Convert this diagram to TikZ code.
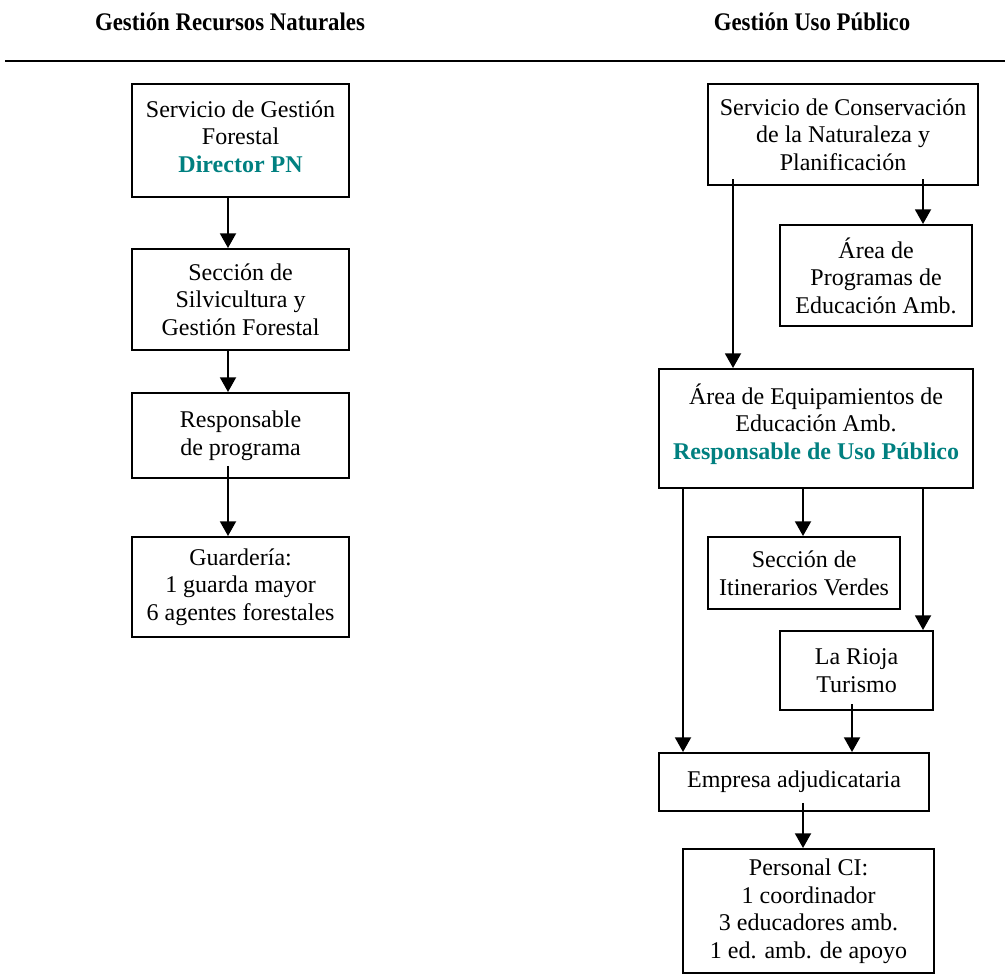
\documentclass[tikz,border=0pt]{standalone}
\usepackage{fontspec}
\usepackage{graphicx}
\setmainfont{Liberation Serif}
\usetikzlibrary{arrows.meta}
\definecolor{pnteal}{RGB}{0,128,128}
\begin{document}
\begin{tikzpicture}[x=0.75pt,y=-0.75pt,
  box/.style={draw, line width=1.6pt, inner sep=0pt, align=center, anchor=north west,
              font=\fontsize{18}{20.7}\selectfont},
  arr/.style={line width=1.4pt, -{Triangle[width=12pt,length=11pt]}},
  head/.style={inner sep=0pt, font=\fontsize{19}{22}\selectfont\bfseries}]
\path[use as bounding box] (0,0) rectangle (1005,977);

% headers
\node[head] (h1) at (230,22) {\scalebox{0.9}[1]{Gestión Recursos Naturales}};
\node[head] (h2) at (812,22) {\scalebox{0.9}[1]{Gestión Uso Público}};
\draw[line width=2pt] (5,61) -- (1005,61);

% left column
\node[box, minimum width=217*0.75pt, minimum height=113*0.75pt] (b1) at (131,83)
  {Servicio de Gestión\\Forestal\\{\bfseries\color{pnteal}Director PN}\\[-14.7pt]};
\node[box, minimum width=217*0.75pt, minimum height=101*0.75pt] (b2) at (131,248)
  {Sección de\\Silvicultura y\\Gestión Forestal};
\node[box, minimum width=217*0.75pt, minimum height=85*0.75pt] (b3) at (131,392)
  {Responsable\\de programa};
\node[box, minimum width=217*0.75pt, minimum height=100*0.75pt] (b4) at (131,536)
  {Guardería:\\1 guarda mayor\\6 agentes forestales};

% right column
\node[box, minimum width=270*0.75pt, minimum height=101*0.75pt] (r1) at (707,83)
  {Servicio de Conservación\\de la Naturaleza y\\Planificación};
\node[box, minimum width=192*0.75pt, minimum height=101*0.75pt] (r2) at (779,224)
  {Área de\\Programas de\\Educación Amb.};
\node[box, minimum width=314*0.75pt, minimum height=119*0.75pt] (r3) at (658,368)
  {Área de Equipamientos de\\Educación Amb.\\{\bfseries\color{pnteal}Responsable de Uso Público}\\[-10pt]};
\node[box, minimum width=192*0.75pt, minimum height=72*0.75pt] (r4) at (707,536)
  {Sección de\\Itinerarios Verdes};
\node[box, minimum width=153*0.75pt, minimum height=79*0.75pt] (r5) at (779,630)
  {La Rioja\\Turismo};
\node[box, minimum width=270*0.75pt, minimum height=58*0.75pt] (r6) at (658,752)
  {Empresa adjudicataria};
\node[box, minimum width=251*0.75pt, minimum height=124*0.75pt] (r7) at (682,848)
  {Personal CI:\\1 coordinador\\3 educadores amb.\\1 ed. amb. de apoyo};

% connector x positions
\coordinate (xl) at (228,0);
\coordinate (xa) at (733,0);
\coordinate (xb) at (923,0);
\coordinate (xc) at (683,0);
\coordinate (xd) at (803,0);
\coordinate (xe) at (852,0);

% connectors
\draw[arr] (xl |- b1.south) -- (xl |- b2.north);
\draw[arr] (xl |- b2.south) -- (xl |- b3.north);
\draw[arr, shorten <=-10pt] (xl |- b3.south) -- (xl |- b4.north);

\draw[arr, shorten <=-5pt] (xa |- r1.south) -- (xa |- r3.north);
\draw[arr, shorten <=-5pt] (xb |- r1.south) -- (xb |- r2.north);
\draw[arr] (xc |- r3.south) -- (xc |- r6.north);
\draw[arr] (xd |- r3.south) -- (xd |- r4.north);
\draw[arr] (xb |- r3.south) -- (xb |- r5.north);
\draw[arr, shorten <=-5pt] (xe |- r5.south) -- (xe |- r6.north);
\draw[arr, shorten <=-7pt] (xd |- r6.south) -- (xd |- r7.north);
\end{tikzpicture}
\end{document}
